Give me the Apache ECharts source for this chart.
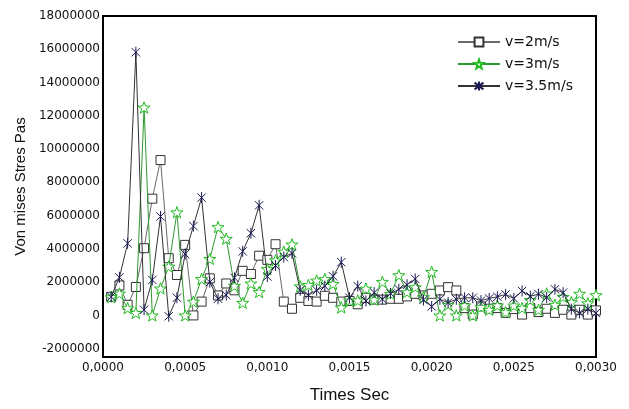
<!DOCTYPE html>
<html>
<head>
<meta charset="utf-8">
<script src="https://cdn.jsdelivr.net/npm/echarts@6/dist/echarts.min.js"></script>
<style>
  html, body { margin: 0; padding: 0; background: #fff; }
  #chart { width: 629px; height: 409px; }
</style>
</head>
<body>
<div id="chart"></div>
<script>
// Sample times (s)
const times = [
  0.00005, 0.00010, 0.00015, 0.00020, 0.00025, 0.00030, 0.00035, 0.00040, 0.00045, 0.00050,
  0.00055, 0.00060, 0.00065, 0.00070, 0.00075, 0.00080, 0.00085, 0.00090, 0.00095, 0.00100,
  0.00105, 0.00110, 0.00115, 0.00120, 0.00125, 0.00130, 0.00135, 0.00140, 0.00145, 0.00150,
  0.00155, 0.00160, 0.00165, 0.00170, 0.00175, 0.00180, 0.00185, 0.00190, 0.00195, 0.00200,
  0.00205, 0.00210, 0.00215, 0.00220, 0.00225, 0.00230, 0.00235, 0.00240, 0.00245, 0.00250,
  0.00255, 0.00260, 0.00265, 0.00270, 0.00275, 0.00280, 0.00285, 0.00290, 0.00295, 0.00300
];

// Von Mises stress (Pa), v = 2 m/s
const stressV2 = [
  1120000, 1800000, 640000, 1710000, 4040000, 7020000, 9340000, 3440000, 2430000, 4240000,
  0, 830000, 2230000, 1200000, 1920000, 1510000, 2680000, 2490000, 3590000, 3340000,
  4280000, 830000, 400000, 1060000, 870000, 830000, 1180000, 1060000, 830000, 870000,
  670000, 1060000, 950000, 950000, 1000000, 1000000, 1140000, 1300000, 1200000, 1300000,
  1500000, 1700000, 1500000, 440000, 50000, 540000, 400000, 440000, 150000, 380000,
  50000, 440000, 200000, 400000, 150000, 340000, 50000, 340000, 50000, 300000
];

// Von Mises stress (Pa), v = 3 m/s
const stressV3 = [
  1100000, 1320000, 440000, 150000, 12500000, 0, 1620000, 2940000, 6200000, 0,
  830000, 2190000, 3400000, 5310000, 4610000, 1780000, 760000, 1920000, 1410000, 2790000,
  3310000, 3830000, 4270000, 1750000, 1830000, 2100000, 2190000, 1900000, 480000, 900000,
  900000, 1610000, 950000, 2020000, 1300000, 2420000, 1400000, 1700000, 1100000, 2620000,
  0, 640000, 0, 600000, 0, 500000, 340000, 600000, 200000, 600000,
  440000, 930000, 340000, 1320000, 640000, 1120000, 800000, 1310000, 730000, 1220000
];

// Von Mises stress (Pa), v = 3.5 m/s
const stressV35 = [
  1120000, 2290000, 4330000, 15820000, 340000, 2130000, 5950000, -50000, 1060000, 3690000,
  5370000, 7080000, 2000000, 1000000, 1220000, 2260000, 3850000, 4940000, 6620000, 2340000,
  3000000, 3510000, 3730000, 1510000, 1220000, 1510000, 1760000, 2350000, 3200000, 1060000,
  1760000, 870000, 1370000, 980000, 1320000, 1570000, 1840000, 2190000, 930000, 540000,
  970000, 770000, 970000, 1060000, 1060000, 890000, 1020000, 1120000, 1260000, 1020000,
  1470000, 1150000, 1280000, 1080000, 1570000, 1370000, 380000, 150000, 380000, 150000
];

const seriesNames = ['v=2m/s', 'v=3m/s', 'v=3.5m/s'];
const yTickValues = [-2000000, 0, 2000000, 4000000, 6000000, 8000000, 10000000,
  12000000, 14000000, 16000000, 18000000];

const pair = (vals) => vals.map((v, i) => [times[i], v]);

const STAR = 'path://M10,0L12.35,6.76L19.51,6.91L13.8,11.24L15.88,18.09L10,14L4.12,18.09L6.2,11.24L0.49,6.91L7.65,6.76Z';
const ASTERISK = 'path://M5,0L5,10M1.2,1.2L8.8,8.8M8.8,1.2L1.2,8.8';

const labelFont = { fontFamily: 'DejaVu Sans', fontSize: 12, color: '#111' };

const chart = echarts.init(document.getElementById('chart'), null, { renderer: 'canvas' });
chart.setOption({
  backgroundColor: '#fff',
  animation: false,
  grid: {
    left: 103, right: 33, top: 16, bottom: 42,
    show: true, borderColor: '#000', borderWidth: 2, backgroundColor: 'transparent'
  },
  legend: {
    data: seriesNames,
    orient: 'vertical',
    left: 452,
    top: 30,
    itemWidth: 42,
    itemHeight: 11,
    itemGap: 8,
    textStyle: { fontFamily: 'DejaVu Sans', fontSize: 14, color: '#111' }
  },
  xAxis: {
    type: 'value',
    min: 0,
    max: 0.003,
    interval: 0.0005,
    name: 'Times Sec',
    nameLocation: 'middle',
    nameGap: 30,
    nameTextStyle: { fontFamily: 'Liberation Sans', fontSize: 17, color: '#111' },
    axisLine: { show: true, onZero: false, lineStyle: { color: '#000', width: 2 } },
    axisTick: { show: false },
    splitLine: { show: false },
    axisLabel: Object.assign({
      margin: 5,
      formatter: (v) => v.toFixed(4).replace('.', ',')
    }, labelFont)
  },
  yAxis: {
    type: 'value',
    min: -2500000,
    max: 18000000,
    name: 'Von mises Stres Pas',
    nameLocation: 'middle',
    nameGap: 74,
    nameRotate: 90,
    nameTextStyle: { fontFamily: 'Liberation Sans', fontSize: 15, color: '#111' },
    axisLine: { show: true, lineStyle: { color: '#000', width: 2 } },
    axisTick: { show: false },
    splitLine: { show: false },
    axisLabel: Object.assign({
      margin: 3,
      customValues: yTickValues,
      formatter: (v) => String(v)
    }, labelFont)
  },
  series: [
    {
      name: seriesNames[0],
      type: 'line',
      data: pair(stressV2),
      symbol: 'rect',
      symbolSize: 9,
      showAllSymbol: true,
      lineStyle: { color: '#6a6a6a', width: 1 },
      itemStyle: { color: '#fff', borderColor: '#333', borderWidth: 1 },
      z: 2
    },
    {
      name: seriesNames[1],
      type: 'line',
      data: pair(stressV3),
      symbol: STAR,
      symbolSize: 12,
      symbolKeepAspect: true,
      showAllSymbol: true,
      lineStyle: { color: '#2f9a2f', width: 1 },
      itemStyle: { color: '#fff', borderColor: '#22bb22', borderWidth: 1 },
      z: 3
    },
    {
      name: seriesNames[2],
      type: 'line',
      data: pair(stressV35),
      symbol: ASTERISK,
      symbolSize: 11,
      symbolKeepAspect: true,
      showAllSymbol: true,
      lineStyle: { color: '#333', width: 1 },
      itemStyle: { color: '#1a1a66', borderColor: '#1a1a55', borderWidth: 1 },
      z: 4
    }
  ]
});
</script>
</body>
</html>
